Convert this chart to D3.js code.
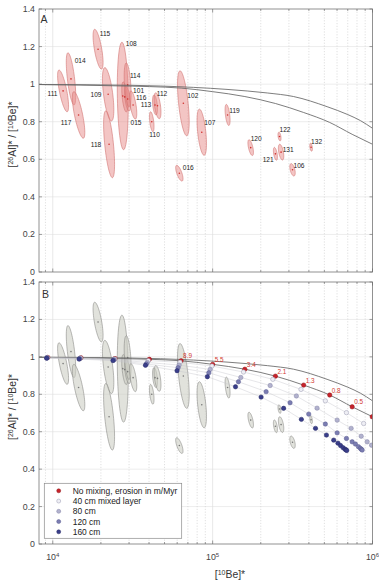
<!DOCTYPE html>
<html><head><meta charset="utf-8">
<script src="https://cdn.jsdelivr.net/npm/d3@7"></script>
<style>
body{margin:0;background:#fff}
svg{display:block}
text{font-family:"Liberation Sans",Arial,Helvetica,sans-serif;fill:#333}
</style>
</head><body>
<svg id="c" width="379" height="582"></svg>
<script>
// ---------------- data ----------------
const sampleNames = ["111","014","117","115","109","118","108","101","116","114","015","110","113","112","016","102","107","119","120","121","122","131","106","132"];
const sampleBe    = [11600,13000,14500,19200,22200,22500,27400,28200,29400,29400,31800,41600,43600,45200,61900,65600,85500,124000,173000,247000,262000,268000,316000,413000];
const sampleRatio = [0.964,1.028,0.836,1.186,0.946,0.680,0.937,0.932,0.921,0.996,0.889,0.800,0.889,0.885,0.526,0.898,0.744,0.836,0.662,0.629,0.721,0.638,0.544,0.664];
const sampleBeUnc = [0.079,0.068,0.090,0.072,0.082,0.079,0.079,0.043,0.043,0.050,0.053,0.033,0.036,0.050,0.053,0.084,0.068,0.036,0.040,0.029,0.022,0.039,0.039,0.019];
const sampleRatioUnc = [0.111,0.139,0.124,0.106,0.142,0.178,0.286,0.080,0.064,0.117,0.075,0.053,0.053,0.069,0.042,0.173,0.123,0.056,0.042,0.034,0.023,0.042,0.033,0.021];
const sampleRho   = [-0.73,-0.64,-0.75,-0.67,-0.58,-0.6,-0.15,-0.5,-0.5,-0.4,-0.6,-0.5,-0.4,-0.5,-0.7,-0.57,-0.5,-0.5,-0.6,-0.5,-0.4,-0.5,-0.5,-0.4];

// constant exposure (no erosion) curve
const exposureBe    = [8200,20000,47000,123000,220000,321000,520000,700000,840000,1000000];
const exposureRatio = [0.998,0.996,0.990,0.972,0.953,0.934,0.880,0.838,0.806,0.765];
// steady-state erosion curve
const steadyBe    = [8200,9300,15000,24500,40200,63500,100000,159000,247000,371000,540000,746000,1000000];
const steadyRatio = [0.998,0.997,0.995,0.991,0.987,0.979,0.960,0.934,0.897,0.849,0.796,0.733,0.680];

// erosion rates (m/Myr) for the model points
const erosionRates = [61,37.7,23.3,14.4,8.9,5.5,3.4,2.1,1.3,0.8,0.5,0.3,0.2,0.12,0.08,0.05,0.03,0.02,0.01];
const labelledRates = [8.9,5.5,3.4,2.1,1.3,0.8,0.5];

// no mixing
const mixBe0    = [9300,15000,24500,40200,63500,100000,159000,247000,371000,540000,746000,996000];
const mixRatio0 = [0.997,0.995,0.991,0.987,0.979,0.960,0.934,0.897,0.849,0.796,0.733,0.680];
// 40 cm mixed layer
const mixBe40    = [9250,14900,24400,39600,62500,99000,156000,238000,357000,507000,687000,880000];
const mixRatio40 = [0.996,0.994,0.989,0.980,0.971,0.951,0.919,0.880,0.826,0.765,0.702,0.644];
// 80 cm
const mixBe80    = [9200,14800,24200,39000,61700,96500,150000,229000,334000,450000,601000,735000,850000,926000,987000];
const mixRatio80 = [0.995,0.992,0.986,0.970,0.956,0.933,0.890,0.847,0.791,0.726,0.662,0.618,0.576,0.546,0.528];
// 120 cm
const mixBe120    = [9200,14700,24000,38500,60800,94600,145000,216000,305000,399000,507000,601000,687000,746000,782000,817000,840000,852000,862000];
const mixRatio120 = [0.994,0.990,0.983,0.962,0.942,0.915,0.867,0.814,0.755,0.694,0.641,0.594,0.564,0.546,0.534,0.520,0.511,0.506,0.502];
// 160 cm
const mixBe160    = [9150,14600,23800,38000,59900,92700,139000,201000,278000,359000,440000,515000,572000,608000,631000,654000,672000,682000,690000];
const mixRatio160 = [0.993,0.988,0.980,0.955,0.926,0.894,0.840,0.785,0.725,0.666,0.618,0.582,0.555,0.539,0.526,0.515,0.507,0.503,0.500];

const yTicks = [0,0.2,0.4,0.6,0.8,1,1.2,1.4];
const xTickExps = [4,5,6];
const legendLabels = ["No mixing, erosion in m/Myr","40 cm mixed layer","80 cm","120 cm","160 cm"];

// ---------------- layout / style ----------------
const L = 39, R = 372.5;
const panels = [{top:9,bottom:272,name:"A",lx:40.5,ly:22.5},{top:282,bottom:544,name:"B",lx:42,ly:298}];
const labelOffsets = {
 "111":[-15.6,2.3],"014":[3.7,-18],"117":[-17.7,7.7],"115":[1.7,-15.3],"109":[-17.6,0.4],
 "118":[-18.3,0],"108":[3,-52],"114":[2.3,-9],"101":[8.3,-6.3],"116":[8.3,-1.7],
 "015":[-2.6,17.7],"113":[-14.3,0],"112":[-0.8,-12.3],"110":[-2.4,12.3],"102":[4,-7.6],
 "107":[2.6,-10],"119":[1.7,-4.3],"016":[3.4,-5.6],"120":[0,-8.7],"122":[0,-6.7],
 "121":[-12.7,6],"131":[1.6,-2.3],"132":[0,-5.3],"106":[1,-4]
};
const depthStyles = [
 {fill:"#c8222a",stroke:"#8e1a1e"},
 {fill:"#eeeef4",stroke:"#9898b0"},
 {fill:"#b2b2ce",stroke:"#8484a6"},
 {fill:"#7b7db2",stroke:"#5a5c90"},
 {fill:"#3a3e8a",stroke:"#272a66"}
];

const svg = d3.select("#c");
const x = d3.scaleLog().domain([8200,1e6]).range([L,R]);

const ellPts = d3.range(0,64).map(i=>i/64*2*Math.PI);
function ellipse(i){
  const lb = Math.log10(sampleBe[i]), sl = sampleBeUnc[i]/Math.LN10;
  const r = sampleRatio[i], sr = sampleRatioUnc[i], rho = sampleRho[i];
  const q = Math.sqrt(1-rho*rho);
  return ellPts.map(t=>[Math.pow(10, lb + sl*Math.cos(t)), r + sr*(rho*Math.cos(t)+q*Math.sin(t))]);
}

function supLabel(sel, parts, big, small){
  parts.forEach(p=>{
    const ts = sel.append("tspan").text(p[0]);
    if (p[1]) ts.attr("baseline-shift","super").attr("font-size",small);
  });
}

panels.forEach((p,pi)=>{
  const y = d3.scaleLinear().domain([0,1.4]).range([p.bottom,p.top]);
  const g = svg.append("g");
  const clipId = "clip"+pi;
  svg.append("clipPath").attr("id",clipId).append("rect")
    .attr("x",L).attr("y",p.top).attr("width",R-L).attr("height",p.bottom-p.top);

  // grid
  const grid = g.append("g");
  yTicks.slice(1,-1).forEach(v=>grid.append("line").attr("x1",L).attr("x2",R)
    .attr("y1",y(v)).attr("y2",y(v)).attr("stroke","#e4e4e4").attr("stroke-width",0.7));
  const minor = [];
  [3,4,5].forEach(e=>{for(let k=1;k<10;k++){const v=k*Math.pow(10,e); if(v>=8200&&v<1e6) minor.push(v);}});
  minor.push(1e6);
  minor.forEach(v=>{
    const major = Math.abs(Math.log10(v)-Math.round(Math.log10(v)))<1e-9;
    if (v>=1e6) return;
    grid.append("line").attr("x1",x(v)).attr("x2",x(v)).attr("y1",p.top).attr("y2",p.bottom)
      .attr("stroke",major?"#dedede":"#d2d2d2").attr("stroke-width",0.7)
      .attr("stroke-dasharray",major?null:"1.2,1.6");
  });

  const plot = g.append("g").attr("clip-path",`url(#${clipId})`);

  // ellipses
  const line = d3.line().x(d=>x(d[0])).y(d=>y(d[1])).curve(d3.curveLinearClosed);
  sampleNames.forEach((n,i)=>{
    plot.append("path").attr("d",line(ellipse(i)))
      .attr("fill", pi===0?"rgba(232,140,138,0.5)":"rgba(205,206,196,0.6)")
      .attr("stroke", pi===0?"#d27472":"#8c8c88").attr("stroke-width",0.6);
  });
  sampleNames.forEach((n,i)=>{
    plot.append("circle").attr("cx",x(sampleBe[i])).attr("cy",y(sampleRatio[i])).attr("r",0.8)
      .attr("fill",pi===0?"#d0302e":"#777");
  });

  // curves
  const cl = d3.line().x(d=>x(d[0])).y(d=>y(d[1])).curve(d3.curveMonotoneX);
  plot.append("path").attr("d",cl(exposureBe.map((b,i)=>[b,exposureRatio[i]])))
    .attr("fill","none").attr("stroke","#666").attr("stroke-width",0.85);
  plot.append("path").attr("d",cl(steadyBe.map((b,i)=>[b,steadyRatio[i]])))
    .attr("fill","none").attr("stroke","#666").attr("stroke-width",0.85);

  if (pi===0){
    sampleNames.forEach((n,i)=>{
      const o = labelOffsets[n];
      g.append("text").attr("x",x(sampleBe[i])+o[0]).attr("y",y(sampleRatio[i])+o[1])
        .attr("dominant-baseline","central").attr("font-size",6.6).style("fill","#222").text(n);
    });
  } else {
    const depthsBe = [mixBe0,mixBe40,mixBe80,mixBe120,mixBe160];
    const depthsR  = [mixRatio0,mixRatio40,mixRatio80,mixRatio120,mixRatio160];
    const ll = d3.line().x(d=>x(d[0])).y(d=>y(d[1]));
    for (let d=1; d<5; d++){
      plot.append("path").attr("d",ll(depthsBe[d].map((b,i)=>[b,depthsR[d][i]])))
        .attr("fill","none").attr("stroke","#c6c6ce").attr("stroke-width",0.45);
    }
    for (let d=0; d<5; d++){
      depthsBe[d].forEach((b,i)=>{
        plot.append("circle").attr("cx",x(b)).attr("cy",y(depthsR[d][i])).attr("r",2.2)
          .attr("fill",depthStyles[d].fill).attr("stroke",depthStyles[d].stroke).attr("stroke-width",0.5);
      });
    }
    labelledRates.forEach(rt=>{
      const i = erosionRates.indexOf(rt);
      g.append("text").attr("x",x(mixBe0[i])+2).attr("y",y(mixRatio0[i])-5)
        .attr("dominant-baseline","central").attr("font-size",6.4).style("fill","#d23a32").text(rt);
    });
    // legend
    const lg = g.append("g");
    lg.append("rect").attr("x",44.3).attr("y",483.3).attr("width",137.4).attr("height",55)
      .attr("fill","#fff").attr("stroke","#8a8a8a").attr("stroke-width",0.7);
    legendLabels.forEach((t,k)=>{
      const cy = 490.8 + k*10.25;
      lg.append("circle").attr("cx",58.7).attr("cy",cy).attr("r",2)
        .attr("fill",depthStyles[k].fill).attr("stroke",depthStyles[k].stroke).attr("stroke-width",0.5);
      lg.append("text").attr("x",72.7).attr("y",cy).attr("dominant-baseline","central")
        .attr("font-size",8.45).style("fill","#222").text(t);
    });
  }

  // frame
  g.append("rect").attr("x",L).attr("y",p.top).attr("width",R-L).attr("height",p.bottom-p.top)
    .attr("fill","none").attr("stroke","#777").attr("stroke-width",0.8);

  // ticks (inward, all sides)
  const tk = g.append("g").attr("stroke","#666").attr("stroke-width",0.6);
  yTicks.forEach(v=>{
    tk.append("line").attr("x1",L).attr("x2",L+3).attr("y1",y(v)).attr("y2",y(v));
    tk.append("line").attr("x1",R).attr("x2",R-3).attr("y1",y(v)).attr("y2",y(v));
    g.append("text").attr("x",35).attr("y",y(v)).attr("text-anchor","end")
      .attr("dominant-baseline","central").attr("font-size",8.8).style("fill","#444")
      .text(d3.format("~g")(v));
  });
  minor.forEach(v=>{
    const major = Math.abs(Math.log10(v)-Math.round(Math.log10(v)))<1e-9;
    const len = major?3.5:2;
    tk.append("line").attr("x1",x(v)).attr("x2",x(v)).attr("y1",p.bottom).attr("y2",p.bottom-len);
    tk.append("line").attr("x1",x(v)).attr("x2",x(v)).attr("y1",p.top).attr("y2",p.top+len);
  });

  // panel letter
  g.append("text").attr("x",p.lx).attr("y",p.ly).attr("font-size",10.5).style("fill","#333").text(p.name);

  // y label
  const yl = g.append("text").attr("transform",`translate(16,${(p.top+p.bottom)/2 - 6}) rotate(-90)`)
    .attr("text-anchor","middle").attr("font-size",10.4).style("fill","#333");
  supLabel(yl, [["["],["26",1],["Al]* / ["],["10",1],["Be]*"]], 10.4, 7);

  if (pi===1){
    xTickExps.forEach(e=>{
      const t = g.append("text").attr("x",x(Math.pow(10,e))).attr("y",560)
        .attr("text-anchor","middle").attr("font-size",8.8).style("fill","#444");
      supLabel(t, [["10"],[String(e),1]], 8.8, 6);
    });
    const xl = g.append("text").attr("x",230).attr("y",578).attr("text-anchor","middle")
      .attr("font-size",10.4).style("fill","#333");
    supLabel(xl, [["["],["10",1],["Be]*"]], 10.4, 7);
  }
});
</script>
</body></html>
